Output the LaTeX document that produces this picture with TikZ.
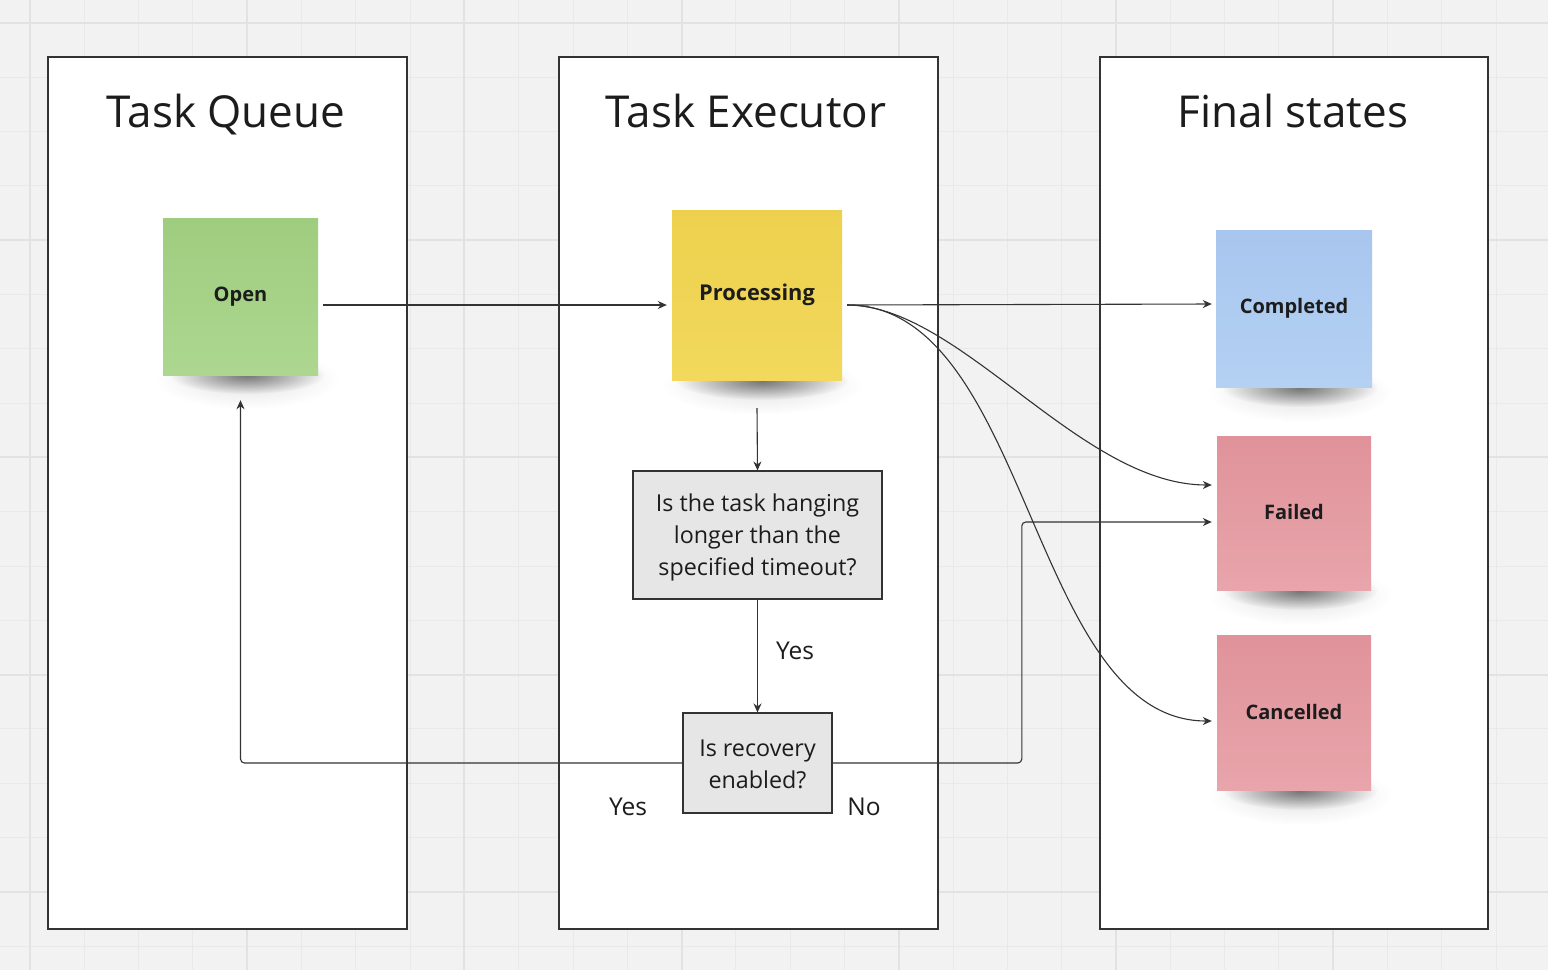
\documentclass[tikz,border=0pt]{standalone}
\usepackage{fontspec}
\setmainfont{Open Sans}
\usetikzlibrary{arrows.meta,calc,fadings}
\definecolor{bgc}{HTML}{F2F2F2}
\definecolor{gridminor}{HTML}{E9E9E9}
\definecolor{gridmajor}{HTML}{E2E2E2}
\definecolor{ink}{HTML}{333333}
\definecolor{txt}{HTML}{1C1C1C}
\definecolor{greenT}{HTML}{9FCD7F}\definecolor{greenB}{HTML}{ADD790}
\definecolor{yelT}{HTML}{EDD14E}\definecolor{yelB}{HTML}{F2D85C}
\definecolor{bluT}{HTML}{A8C6EE}\definecolor{bluB}{HTML}{B4D1F3}
\definecolor{pinkT}{HTML}{E0929A}\definecolor{pinkB}{HTML}{E8A5AB}
\definecolor{qfill}{HTML}{E6E6E6}
\tikzfading[name=shfade, inner color=transparent!52, outer color=transparent!100]
\tikzfading[name=halofade, inner color=transparent!88, outer color=transparent!100]
\begin{document}
\begin{tikzpicture}[x=1pt,y=-1pt,
  lane/.style={draw=ink, line width=1.2pt, fill=white, rectangle, inner sep=0pt},
  title/.style={font=\fontsize{44}{52}\selectfont, text=txt, anchor=base},
  sticky/.style={rectangle, inner sep=0pt, font=\bfseries\fontsize{20}{24}\selectfont, text=txt},
  question/.style={draw=ink, line width=1.1pt, fill=qfill, rectangle, inner sep=0pt},
  qtext/.style={align=center, inner sep=0pt, font=\fontsize{23.3}{32}\selectfont, text=txt},
  lbl/.style={font=\fontsize{24.5}{28}\selectfont, text=txt},
  arr/.style={draw=ink, line width=1.1pt, -{Stealth[length=9pt,width=8pt]}},
  shadowblob/.style={fill=black, path fading=shfade},
  haloblob/.style={fill=black, path fading=halofade}
]
\useasboundingbox (0,0) rectangle (1548,970);
\fill[bgc] (0,0) rectangle (1548,970);
% grid
\foreach \i in {0,...,28} {\draw[gridminor, line width=1pt] (30+54.3*\i,0) -- (30+54.3*\i,970);}
\foreach \j in {0,...,17} {\draw[gridminor, line width=1pt] (0,23+54.3*\j) -- (1548,23+54.3*\j);}
\foreach \i in {0,...,7} {\draw[gridmajor, line width=2pt] (30+217.2*\i,0) -- (30+217.2*\i,970);}
\foreach \j in {0,...,4} {\draw[gridmajor, line width=2pt] (0,23+217.2*\j) -- (1548,23+217.2*\j);}

% lanes
\node[lane, minimum width=359pt, minimum height=872pt] (laneq) at (227.5,493) {};
\node[lane, minimum width=379pt, minimum height=872pt] (lanee) at (748.5,493) {};
\node[lane, minimum width=388pt, minimum height=872pt] (lanef) at (1294,493) {};
\node[title] (tq) at (226,127) {Task Queue};
\node[title] (te) at (746,127) {Task Executor};
\node[title] (tf) at (1293,127) {Final states};

% shadows
\foreach \cx/\by/\rx in {247/375/78, 762/381/86, 1300/388/78, 1300/591/78, 1300/791/78} {
  \fill[haloblob] (\cx,\by+4) ellipse [x radius=\rx+14, y radius=30];
  \fill[shadowblob] (\cx,\by) ellipse [x radius=\rx, y radius=19];
}

% sticky notes
\node[sticky, minimum width=155pt, minimum height=157pt, top color=greenT, bottom color=greenB] (open) at (240.5,296.5) {Open};
\node[sticky, minimum width=170pt, minimum height=170pt, top color=yelT, bottom color=yelB, font=\bfseries\fontsize{21.8}{26}\selectfont] (proc) at (757,295) {Processing};
\node[sticky, minimum width=156pt, minimum height=157pt, top color=bluT, bottom color=bluB] (comp) at (1294,308.5) {\raisebox{1.5pt}{Completed}};
\node[sticky, minimum width=154pt, minimum height=154pt, top color=pinkT, bottom color=pinkB] (fail) at (1294,513) {\raisebox{2pt}{Failed}};
\node[sticky, minimum width=154pt, minimum height=155pt, top color=pinkT, bottom color=pinkB] (canc) at (1294,712.5) {\raisebox{2pt}{Cancelled}};

% questions
\node[question, minimum width=249pt, minimum height=128pt] (q1) at (757.5,535) {};
\node[qtext] (q1t) at (757.5,537) {Is the task hanging\\longer than the\\specified timeout?};
\node[question, minimum width=149pt, minimum height=100pt] (q2) at (757.5,763) {};
\node[qtext] (q2t) at (757.5,764) {Is recovery\\enabled?};

% anchor points
\coordinate (ps) at ($(proc.east)+(5,10)$);
\coordinate (fw1) at ($(fail.west)+(-5,-28)$);
\coordinate (fw2) at ($(fail.west)+(-5,9)$);
\coordinate (cw) at ($(canc.west)+(-5,8.5)$);
\coordinate (cpw) at ($(comp.west)+(-4,-4.5)$);

% connectors
\draw[arr] ($(open.east)+(5,8.5)$) -- ($(proc.west)+(-5,10)$);
\draw[arr] (ps) -- (cpw);
\draw[arr] (ps) .. controls (960,305) and (1080,485) .. (fw1);
\draw[arr] (ps) .. controls (1030,305) and (1030,721) .. (cw);
\draw[arr] ($(proc.south)+(0,28)$) -- (q1.north);
\draw[arr] (q1.south) -- (q2.north);
\draw[arr, rounded corners=4pt] (q2.west) -| ($(open.south)+(0,25)$);
\draw[arr, rounded corners=4pt] (q2.east) -| ($(fw2)+(-190,0)$) -- (fw2);

% labels
\node[lbl] (yes1) at (795,651) {Yes};
\node[lbl] (yes2) at (628,807) {Yes};
\node[lbl] (no1) at (864,807) {No};
\end{tikzpicture}
\end{document}
